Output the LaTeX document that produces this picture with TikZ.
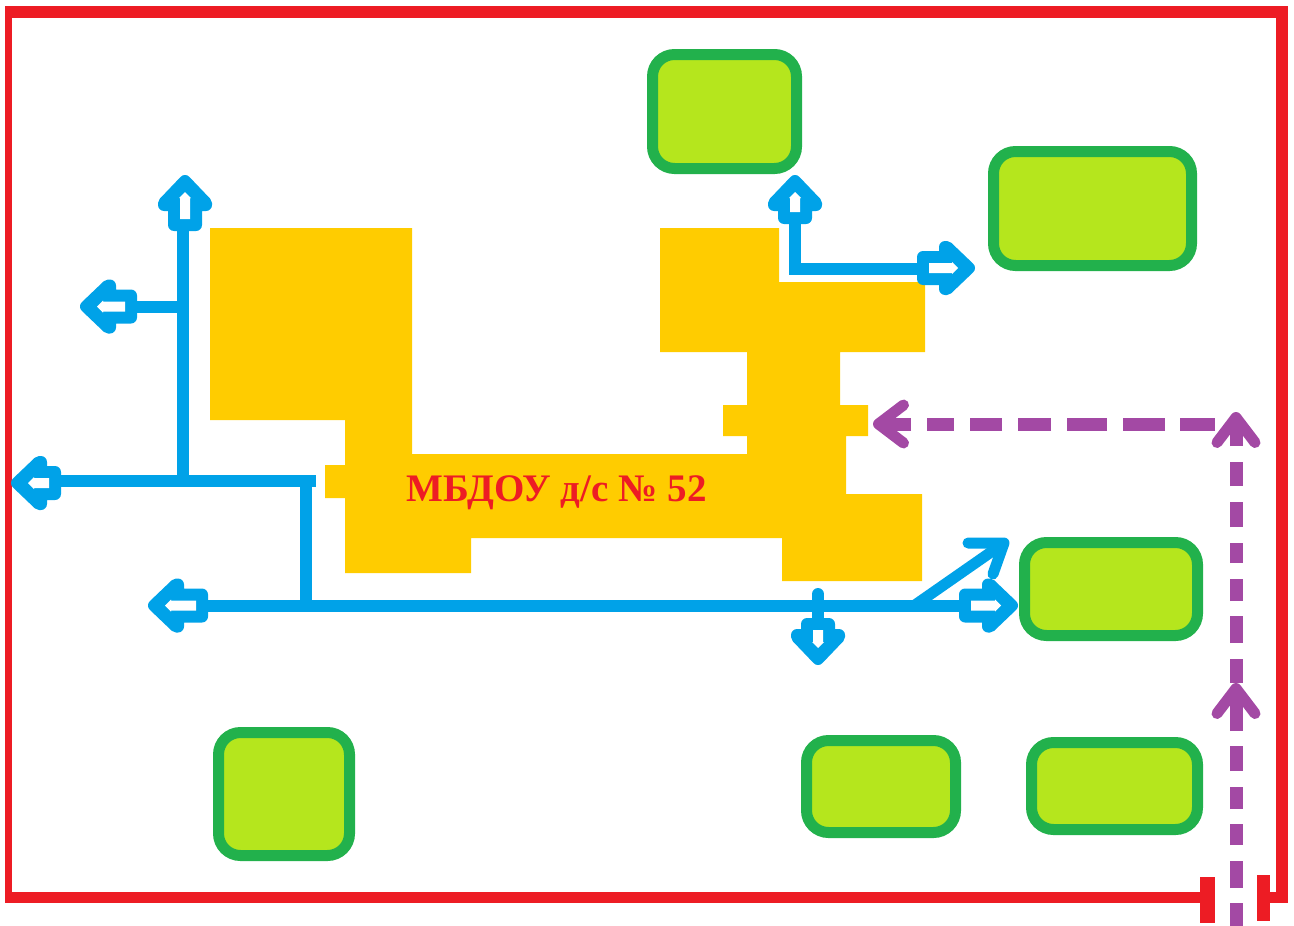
\documentclass[tikz,border=0pt]{standalone}
\usepackage{fontspec}
\setmainfont{Liberation Serif}
\usetikzlibrary{arrows.meta}

\definecolor{fenceRed}{HTML}{ED1C24}
\definecolor{routeBlue}{HTML}{00A2E8}
\definecolor{carPurple}{HTML}{A349A4}
\definecolor{lawnEdge}{HTML}{22B14C}
\definecolor{lawnFill}{HTML}{B5E61D}
\definecolor{houseYellow}{HTML}{FFCC00}

\begin{document}
\begin{tikzpicture} [x=1pt, y=-1pt,
  fence/.style={fenceRed},
  lawn/.style={rectangle, draw=lawnEdge, fill=lawnFill, line width=11pt, rounded corners=22pt, inner sep=0pt},
  route/.style={routeBlue, line width=12pt},
  carway/.style={carPurple, line width=13pt},
  barb/.style={-{Straight Barb[length=25pt, width=38pt, line width=11pt, round]}},
  exit/.pic={
    \fill [routeBlue, draw=routeBlue, line width=12pt, line join=round] (-6,0) -- (-28,21) -- (-30,21) -- (-30,11) -- (-#1+6,11) -- (-#1+6,-11) -- (-30,-11) -- (-30,-21) -- (-28,-21) -- cycle;
    \fill [white] (-17,0) -- (-23,-6) -- (-23,-5) -- (-#1+12,-5) -- (-#1+12,5) -- (-23,5) -- (-23,6) -- cycle;
  }]
  \useasboundingbox (0,0) rectangle (1294,926);
  % Fence
  \draw [fence, line width=12pt] (5,12) -- (1288,12);
  \draw [fence, line width=7pt] (8.5,6) -- (8.5,903);
  \draw [fence, line width=12pt] (1282,6) -- (1282,903);
  \draw [fence, line width=11pt] (5,897) -- (1207,897);
  \draw [fence, line width=11pt] (1263,897) -- (1288,897);
  \draw [fence, line width=15pt] (1207,877) -- (1207,923);
  \draw [fence, line width=13pt] (1263,875) -- (1263,921);
  % Building
  \fill [houseYellow] (210,228) -- (412,228) -- (412,454) -- (747,454) -- (747,436) -- (723,436) -- (723,405) -- (747,405) -- (747,352) -- (660,352) -- (660,228) -- (779,228) -- (779,282) -- (925,282) -- (925,352) -- (840,352) -- (840,405) -- (868,405) -- (868,436) -- (846,436) -- (846,494) -- (922,494) -- (922,581) -- (782,581) -- (782,538) -- (471,538) -- (471,573) -- (345,573) -- (345,498) -- (325,498) -- (325,465) -- (345,465) -- (345,420) -- (210,420) -- cycle;
  \node [fenceRed, font=\bfseries\fontsize{39}{39}\selectfont, inner sep=0pt, anchor=base] (title) at (556.5,501) {МБДОУ д/с № 52};
  % Lawns
  \node [lawn, minimum width=144pt, minimum height=114pt] (lawnnorth) at (724.5,111.5) {};
  \node [lawn, minimum width=198pt, minimum height=114pt] (lawnnortheast) at (1092.5,208.5) {};
  \node [lawn, minimum width=173pt, minimum height=93pt] (lawneast) at (1111,589) {};
  \node [lawn, minimum width=131pt, minimum height=123pt] (lawnwest) at (284,794) {};
  \node [lawn, minimum width=149pt, minimum height=92pt] (lawnsouth) at (881,786.5) {};
  \node [lawn, minimum width=166pt, minimum height=87pt] (lawnsoutheast) at (1114.5,786) {};
  % Evacuation routes, left part
  \coordinate (uptip) at (185,175);
  \coordinate (uptail) at (183,225);
  \coordinate (lefttip) at (80,306.5);
  \coordinate (lefttail) at (130,306.5);
  \coordinate (outtip) at (11,483);
  \coordinate (outtail) at (55,481);
  \coordinate (yardtip) at (148,605.5);
  \coordinate (yardtail) at (200,605.5);
  \coordinate (upjoin) at (183,481);
  \coordinate (stemtop) at (305.5,481);
  \coordinate (stembottom) at (305.5,605.5);
  \coordinate (outend) at (316,481);
  \draw [route] (uptail) -- (upjoin);
  \draw [route] (lefttail) -- (uptail |- lefttail);
  \draw [route] (outtail) -- (outend);
  \draw [route] (stemtop) -- (stembottom);
  \pic [rotate=90] at (uptip) {exit=56};
  \pic [rotate=180] at (lefttip) {exit=57};
  \pic [rotate=180] at (outtip) {exit=50};
  \pic [rotate=180] at (yardtip) {exit=60};
  % Evacuation routes, right part
  \coordinate (nearuptip) at (795,175);
  \coordinate (nearuptail) at (795,218);
  \coordinate (nearrighttip) at (975,268);
  \coordinate (nearrighttail) at (925,269);
  \coordinate (nearcorner) at (795,269);
  \coordinate (easttip) at (1018,605.5);
  \coordinate (easttail) at (965,605.5);
  \coordinate (downtip) at (818,665);
  \coordinate (downtail) at (818,622);
  \coordinate (stubtop) at (818,594);
  \coordinate (forkstart) at (915,605);
  \coordinate (forktip) at (1004,543);
  \coordinate (forkleft) at (968,543);
  \coordinate (forkright) at (993,574);
  \draw [route] (nearuptail) -- (nearcorner) -- (nearrighttail);
  \draw [route] (yardtail) -- (easttail);
  \draw [route, line cap=round] (stubtop) -- (downtail);
  \draw [routeBlue, line width=11pt] (forkstart) -- (forktip);
  \draw [routeBlue, line width=11pt, line cap=round, line join=round] (forkleft) -- (forktip) -- (forkright);
  \pic [rotate=90] at (nearuptip) {exit=49};
  \pic at (nearrighttip) {exit=58};
  \pic at (easttip) {exit=59};
  \pic [rotate=-90] at (downtip) {exit=47};
  % Car access
  \coordinate (gate) at (1236,926);
  \coordinate (midtip) at (1236,683);
  \coordinate (turntip) at (1236,412);
  \coordinate (turn) at (1215,424);
  \coordinate (housetip) at (873,424);
  \draw [carway, barb, dash pattern=on 23pt off 15pt on 27pt off 16pt on 21pt off 15pt on 22pt off 16pt on 25pt off 15pt on 200pt] (gate) -- (midtip);
  \draw [carway, barb, dash pattern=on 24pt off 16pt on 27pt off 15pt on 22pt off 16pt on 20pt off 16pt on 25pt off 16pt on 24pt off 16pt on 100pt] (midtip) -- (turntip);
  \draw [carway, barb, dash pattern=on 35pt off 15pt on 42pt off 16pt on 40pt off 16pt on 33pt off 16pt on 32pt off 16pt on 27pt off 16pt on 100pt] (turn) -- (housetip);
\end{tikzpicture}
\end{document}
